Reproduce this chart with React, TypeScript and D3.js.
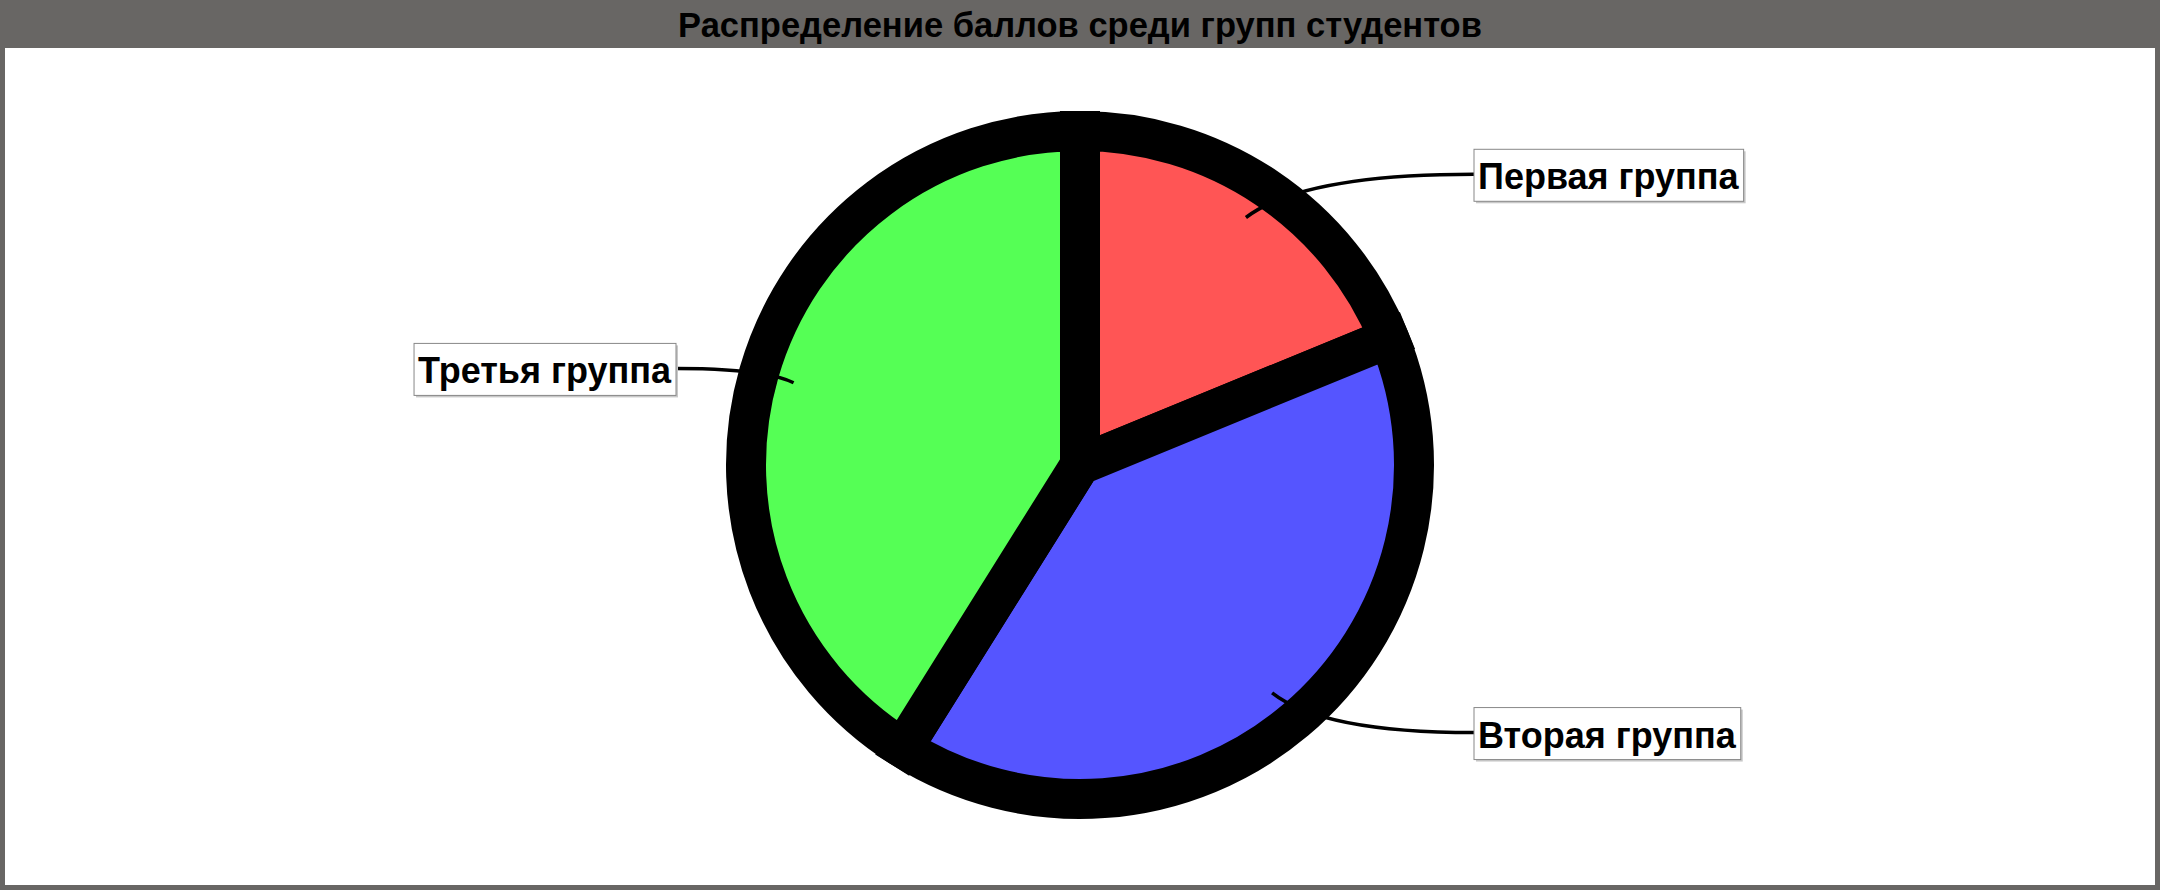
import React, { useEffect, useRef } from "react";
import * as d3 from "d3";

const TITLE = "Распределение баллов среди групп студентов";
const categories = ["Первая группа", "Вторая группа", "Третья группа"];
const values = [18.8, 40.1, 41.1];
const colors = ["#FF5555", "#5555FF", "#55FF55"];

const W = 2160;
const H = 890;
const FONT = "'Liberation Sans', Arial, Helvetica, sans-serif";

export default function App() {
  const ref = useRef<SVGSVGElement | null>(null);

  useEffect(() => {
    const svg = d3.select(ref.current);
    svg.selectAll("*").remove();

    svg.append("rect").attr("x", 0).attr("y", 0).attr("width", W).attr("height", H).attr("fill", "#686664");
    svg.append("rect").attr("x", 5).attr("y", 48).attr("width", W - 10).attr("height", H - 48 - 5).attr("fill", "#ffffff");

    svg
      .append("text")
      .attr("x", W / 2)
      .attr("y", 37)
      .attr("text-anchor", "middle")
      .attr("font-family", FONT)
      .attr("font-weight", "bold")
      .attr("font-size", 34.5)
      .attr("fill", "#000")
      .text(TITLE);

    const cx = 1080;
    const cy = 465;
    const r = 334;

    const pie = d3
      .pie<number>()
      .sort(null)
      .value((d) => d)
      .startAngle(0)
      .endAngle(2 * Math.PI);
    const arcs = pie(values);
    const arc = d3.arc<d3.PieArcDatum<number>>().innerRadius(0).outerRadius(r);

    const g = svg.append("g").attr("transform", `translate(${cx},${cy})`);
    g.selectAll("path.slice")
      .data(arcs)
      .enter()
      .append("path")
      .attr("class", "slice")
      .attr("d", (d) => arc(d) as string)
      .attr("fill", (_, i) => colors[i])
      .attr("stroke", "#000")
      .attr("stroke-width", 40);

    const labelR = 350;
    const startR = 298;
    const rightX = cx + 394;
    const leftX = cx - 404;

    arcs.forEach((a, i) => {
      const mid = (a.startAngle + a.endAngle) / 2;
      const sx = Math.sin(mid);
      const sy = -Math.cos(mid);
      const x0 = cx + sx * startR;
      const y0 = cy + sy * startR;
      const right = sx >= 0;
      const y1 = cy + sy * labelR;
      const x1 = right ? rightX : leftX;
      const qx = x0 + 0.25 * (x1 - x0);

      const p = d3.path();
      p.moveTo(x0, y0);
      p.quadraticCurveTo(qx, y1, x1, y1);
      svg
        .append("path")
        .attr("d", p.toString())
        .attr("fill", "none")
        .attr("stroke", "#000")
        .attr("stroke-width", 3.5);

      const lg = svg.append("g");
      const shadow = lg.append("rect");
      const box = lg.append("rect");
      const t = lg
        .append("text")
        .attr("font-family", FONT)
        .attr("font-weight", "bold")
        .attr("font-size", 36)
        .attr("fill", "#000")
        .text(categories[i]);
      const tw = (t.node() as SVGTextElement).getComputedTextLength();
      const bw = tw + 9;
      const bh = 52;
      const bx = right ? x1 : x1 - bw;
      const by = y1 - 25;
      shadow
        .attr("x", bx + 2)
        .attr("y", by + 2)
        .attr("width", bw)
        .attr("height", bh)
        .attr("fill", "#c8c8c8");
      box
        .attr("x", bx)
        .attr("y", by)
        .attr("width", bw)
        .attr("height", bh)
        .attr("fill", "#ffffff")
        .attr("stroke", "#888888")
        .attr("stroke-width", 1);
      t.attr("x", bx + 4).attr("y", by + 40);
    });
  }, []);

  return (
    <svg
      ref={ref}
      width={W}
      height={H}
      style={{ position: "absolute", left: 0, top: 0, display: "block" }}
    />
  );
}
